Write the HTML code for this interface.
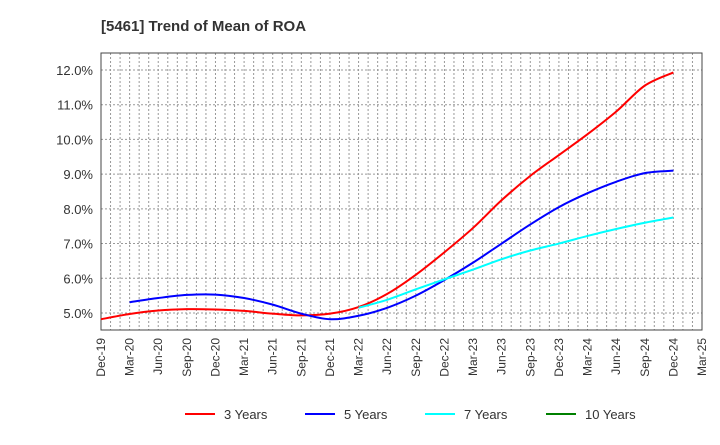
<!DOCTYPE html>
<html><head><meta charset="utf-8"><style>
body{margin:0;background:#fff;font-family:"Liberation Sans",sans-serif}
</style></head><body>
<svg width="720" height="440" viewBox="0 0 720 440" xmlns="http://www.w3.org/2000/svg">
<text x="101" y="31" font-size="15" font-weight="bold" fill="#333">[5461]  Trend of Mean of ROA</text>
<g id="grid"></g><g id="axes"></g><g id="series"></g><g id="legend"></g>
</svg>
<script>
const xLabels=["Dec-19","Mar-20","Jun-20","Sep-20","Dec-20","Mar-21","Jun-21","Sep-21","Dec-21","Mar-22","Jun-22","Sep-22","Dec-22","Mar-23","Jun-23","Sep-23","Dec-23","Mar-24","Jun-24","Sep-24","Dec-24","Mar-25"];
const yTicks=[5,6,7,8,9,10,11,12];
const seriesNames=["3 Years","5 Years","7 Years","10 Years"];
const seriesColors=["#ff0000","#0000ff","#00ffff","#008000"];
const s3=[4.82,4.97,5.07,5.11,5.10,5.06,4.98,4.93,4.98,5.17,5.55,6.1,6.75,7.45,8.25,8.95,9.55,10.15,10.8,11.55,11.93];
const s5=[null,5.31,5.43,5.52,5.53,5.43,5.24,4.98,4.82,4.92,5.15,5.5,5.95,6.45,7.0,7.55,8.05,8.45,8.78,9.03,9.1];
const s7=[null,null,null,null,null,null,null,null,null,5.15,5.38,5.68,5.97,6.25,6.55,6.8,7.0,7.22,7.42,7.6,7.75];
const s10=[];
const L=101,R=702,T=53,B=330;
const X=i=>L+(R-L)*i/21;
const Y=v=>70+(12-v)*34.71;
const NS="http://www.w3.org/2000/svg";
function mk(t,a,p){const e=document.createElementNS(NS,t);for(const k in a)e.setAttribute(k,a[k]);p.appendChild(e);return e;}
const grid=document.getElementById('grid'),axes=document.getElementById('axes'),ser=document.getElementById('series'),leg=document.getElementById('legend');
for(let m=1;m<63;m++){const x=L+(R-L)*m/63;
const g=mk('line',{x1:x,x2:x,y1:T,y2:B,stroke:'#999','stroke-dasharray':'2,2','stroke-width':1},grid);

}
yTicks.forEach(v=>{const g=mk('line',{x1:L,x2:R,y1:Y(v),y2:Y(v),stroke:'#999','stroke-dasharray':'2,2'},grid);


const t=mk('text',{x:L-8,y:Y(v)+5,'text-anchor':'end','font-size':13,fill:'#333'},axes);t.textContent=v.toFixed(1)+'%';

});
const fr=mk('rect',{x:L,y:T,width:R-L,height:B-T,fill:'none',stroke:'#444','stroke-width':1},axes);


xLabels.forEach((s,i)=>{const x=X(i);const t=mk('text',{x:x+4,y:B+8,'text-anchor':'end','font-size':12,fill:'#333',transform:`rotate(-90 ${x+4} ${B+8})`},axes);t.textContent=s;

});
function path(d){const p=[];d.forEach((v,i)=>{if(v!=null)p.push([X(i),Y(v)]);});if(p.length<2)return '';
let s=`M${p[0][0]},${p[0][1]}`;for(let i=0;i<p.length-1;i++){const p0=p[i-1]||p[i],p1=p[i],p2=p[i+1],p3=p[i+2]||p2;
s+=` C${p1[0]+(p2[0]-p0[0])/6},${p1[1]+(p2[1]-p0[1])/6} ${p2[0]-(p3[0]-p1[0])/6},${p2[1]-(p3[1]-p1[1])/6} ${p2[0]},${p2[1]}`;}return s;}
[s3,s5,s7,s10].forEach((d,k)=>{const s=path(d);if(!s)return;const e=mk('path',{d:s,fill:'none',stroke:seriesColors[k],'stroke-width':2},ser);

});
const lx=[185,305,425,546];
seriesNames.forEach((n,k)=>{const g=mk('g',{},leg);


mk('line',{x1:lx[k],x2:lx[k]+30,y1:414,y2:414,stroke:seriesColors[k],'stroke-width':2},g);
const t=mk('text',{x:lx[k]+39,y:419,'font-size':13,fill:'#333'},g);t.textContent=n;});
</script>
</body></html>
